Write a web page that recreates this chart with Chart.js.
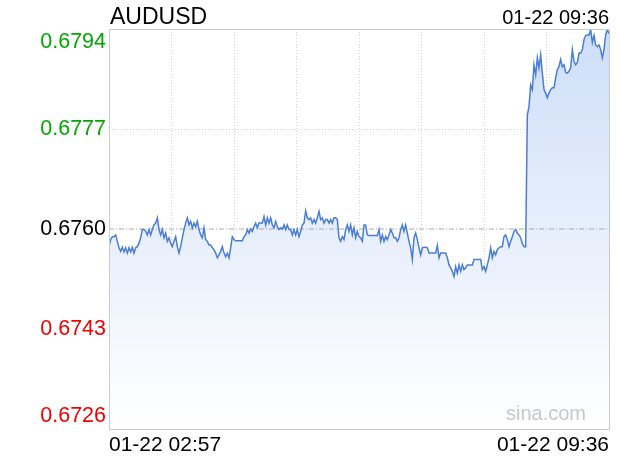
<!DOCTYPE html>
<html>
<head>
<meta charset="utf-8">
<script src="https://cdn.jsdelivr.net/npm/chart.js@4/dist/chart.umd.min.js"></script>
<style>
  body { margin: 0; background: #fff; }
  canvas { display: block; }
</style>
</head>
<body>
<canvas id="fxChart" width="620" height="460"></canvas>
<script>
var symbol = 'AUDUSD';
var lastTime = '01-22 09:36';
var xLabels = ['01-22 02:57', '01-22 09:36'];
var prevClose = 0.6760;
var yTicks = [0.6726, 0.6743, 0.6760, 0.6777, 0.6794];

// minute prices, 02:57 -> 09:36
var prices = [
  0.67570, 0.67582, 0.67587, 0.67587, 0.67590, 0.67579, 0.67568, 0.67562, 0.67569, 0.67561,
  0.67568, 0.67559, 0.67568, 0.67561, 0.67569, 0.67559, 0.67568, 0.67570, 0.67576, 0.67585,
  0.67599, 0.67599, 0.67596, 0.67590, 0.67599, 0.67590, 0.67599, 0.67607, 0.67610, 0.67619,
  0.67599, 0.67590, 0.67599, 0.67585, 0.67593, 0.67579, 0.67585, 0.67576, 0.67570, 0.67579,
  0.67587, 0.67570, 0.67559, 0.67570, 0.67585, 0.67599, 0.67610, 0.67619, 0.67607, 0.67613,
  0.67602, 0.67610, 0.67604, 0.67613, 0.67599, 0.67590, 0.67585, 0.67602, 0.67582, 0.67579,
  0.67573, 0.67573, 0.67568, 0.67565, 0.67559, 0.67551, 0.67556, 0.67562, 0.67570, 0.67559,
  0.67553, 0.67559, 0.67551, 0.67568, 0.67587, 0.67582, 0.67580, 0.67580, 0.67580, 0.67580,
  0.67580, 0.67587, 0.67590, 0.67599, 0.67593, 0.67600, 0.67596, 0.67604, 0.67610, 0.67602,
  0.67610, 0.67610, 0.67610, 0.67621, 0.67607, 0.67619, 0.67610, 0.67619, 0.67607, 0.67602,
  0.67613, 0.67604, 0.67599, 0.67602, 0.67600, 0.67607, 0.67599, 0.67607, 0.67599, 0.67599,
  0.67590, 0.67599, 0.67590, 0.67599, 0.67587, 0.67596, 0.67607, 0.67610, 0.67631, 0.67619,
  0.67616, 0.67619, 0.67610, 0.67616, 0.67610, 0.67619, 0.67630, 0.67616, 0.67619, 0.67610,
  0.67616, 0.67616, 0.67610, 0.67616, 0.67610, 0.67619, 0.67619, 0.67616, 0.67585, 0.67579,
  0.67587, 0.67582, 0.67599, 0.67607, 0.67596, 0.67607, 0.67590, 0.67602, 0.67585, 0.67596,
  0.67587, 0.67585, 0.67579, 0.67607, 0.67607, 0.67590, 0.67589, 0.67589, 0.67589, 0.67589,
  0.67589, 0.67589, 0.67599, 0.67579, 0.67590, 0.67579, 0.67587, 0.67582, 0.67590, 0.67599,
  0.67593, 0.67585, 0.67585, 0.67579, 0.67585, 0.67599, 0.67607, 0.67596, 0.67607, 0.67593,
  0.67579, 0.67568, 0.67548, 0.67585, 0.67593, 0.67582, 0.67568, 0.67556, 0.67568, 0.67569,
  0.67569, 0.67568, 0.67559, 0.67559, 0.67559, 0.67559, 0.67559, 0.67572, 0.67551, 0.67559,
  0.67559, 0.67559, 0.67559, 0.67551, 0.67539, 0.67534, 0.67528, 0.67519, 0.67536, 0.67525,
  0.67539, 0.67528, 0.67539, 0.67531, 0.67534, 0.67539, 0.67539, 0.67539, 0.67539, 0.67548,
  0.67548, 0.67548, 0.67548, 0.67548, 0.67531, 0.67536, 0.67528, 0.67539, 0.67551, 0.67568,
  0.67551, 0.67562, 0.67556, 0.67565, 0.67568, 0.67570, 0.67570, 0.67587, 0.67590, 0.67582,
  0.67570, 0.67579, 0.67587, 0.67596, 0.67599, 0.67593, 0.67590, 0.67585, 0.67575, 0.67570,
  0.67570, 0.67794, 0.67808, 0.67845, 0.67837, 0.67879, 0.67862, 0.67891, 0.67874, 0.67896,
  0.67865, 0.67837, 0.67831, 0.67823, 0.67831, 0.67837, 0.67840, 0.67840, 0.67857, 0.67871,
  0.67876, 0.67888, 0.67876, 0.67879, 0.67866, 0.67865, 0.67868, 0.67874, 0.67905, 0.67885,
  0.67879, 0.67883, 0.67899, 0.67899, 0.67905, 0.67922, 0.67929, 0.67930, 0.67930, 0.67939,
  0.67917, 0.67929, 0.67913, 0.67910, 0.67913, 0.67905, 0.67891, 0.67905, 0.67930, 0.67939,
  0.67932
];

var font = '"Liberation Sans", Arial, Helvetica, sans-serif';
var lastIdx = prices.length - 1;

var points = prices.map(function (p, i) { return {x: i, y: p}; });

// frame, watermark and the header line
var extras = {
  id: 'extras',
  beforeDatasetsDraw: function (chart) {
    var ctx = chart.ctx;
    ctx.save();
    ctx.font = '20px ' + font;
    ctx.fillStyle = '#c8c8c8';
    ctx.textAlign = 'left';
    ctx.textBaseline = 'alphabetic';
    ctx.fillText('sina.com', 506, 420);
    ctx.restore();
  },
  afterDraw: function (chart) {
    var ctx = chart.ctx, a = chart.chartArea;
    ctx.save();
    ctx.strokeStyle = '#cccccc';
    ctx.lineWidth = 1;
    ctx.strokeRect(a.left + 0.5, a.top + 0.5, a.right - a.left, a.bottom - a.top);
    ctx.fillStyle = '#000';
    ctx.textBaseline = 'alphabetic';
    ctx.font = '23px ' + font;
    ctx.textAlign = 'left';
    ctx.fillText(symbol, 110, 24);
    ctx.font = '20px ' + font;
    ctx.textAlign = 'right';
    ctx.fillText(lastTime, a.right, 24);
    ctx.restore();
  }
};

function tickColor(c) {
  var v = c.tick ? c.tick.value : prevClose;
  if (v > prevClose + 1e-9) return '#00a800';
  if (v < prevClose - 1e-9) return '#f00000';
  return '#000000';
}

var ctx = document.getElementById('fxChart');
var fxChart = new Chart(ctx, {
  type: 'line',
  data: {
    datasets: [{
      label: symbol,
      data: points,
      borderColor: '#4a7ed6',
      borderWidth: 1.5,
      pointRadius: 0,
      tension: 0,
      fill: 'start',
      order: 0,
      backgroundColor: function (c) {
        var a = c.chart.chartArea;
        if (!a) return 'rgba(210,224,248,0.6)';
        var g = c.chart.ctx.createLinearGradient(0, a.top, 0, a.bottom);
        g.addColorStop(0, '#cedef8');
        g.addColorStop(1, '#ffffff');
        return g;
      }
    }, {
      label: 'prev',
      data: [{x: 0, y: prevClose}, {x: lastIdx, y: prevClose}],
      borderColor: '#aaaaaa',
      borderWidth: 1,
      borderDash: [5, 2, 1, 2],
      pointRadius: 0,
      fill: false,
      order: 1
    }]
  },
  options: {
    responsive: false,
    animation: false,
    layout: { padding: { left: 0, right: 11, top: 29, bottom: 0 } },
    plugins: {
      legend: { display: false },
      tooltip: { enabled: false },
      filler: { drawTime: 'beforeDatasetsDraw' }
    },
    scales: {
      x: {
        type: 'linear',
        min: 0,
        max: lastIdx,
        afterBuildTicks: function (s) {
          var t = [];
          for (var k = 0; k <= 8; ++k) t.push({value: lastIdx * k / 8});
          s.ticks = t;
        },
        afterFit: function (s) { s.height = 31; },
        grid: { color: '#d4d4d4', drawTicks: false },
        border: { display: false, dash: [1, 2] },
        ticks: {
          autoSkip: false,
          maxRotation: 0,
          align: 'inner',
          padding: 4,
          color: '#000',
          font: { family: font, size: 21 },
          callback: function (v, i, all) {
            if (i === 0) return xLabels[0];
            if (i === all.length - 1) return xLabels[1];
            return '';
          }
        }
      },
      y: {
        min: yTicks[0],
        max: yTicks[yTicks.length - 1],
        afterBuildTicks: function (s) {
          s.ticks = yTicks.map(function (v) { return {value: v}; });
        },
        afterFit: function (s) { s.width = 109; },
        grid: {
          drawTicks: false,
          color: function (c) {
            if (c.tick && Math.abs(c.tick.value - prevClose) < 1e-9) return 'rgba(0,0,0,0)';
            return '#d4d4d4';
          }
        },
        border: { display: false, dash: [1, 2] },
        ticks: {
          padding: 3,
          color: tickColor,
          font: { family: font, size: 21.5, lineHeight: 1.2 },
          callback: function (v, i, all) {
            var s = Number(v).toFixed(4);
            if (i === all.length - 1) return ['', s];
            if (i === 0) return [s, ''];
            return s;
          }
        }
      }
    }
  },
  plugins: [extras]
});
</script>
</body>
</html>
